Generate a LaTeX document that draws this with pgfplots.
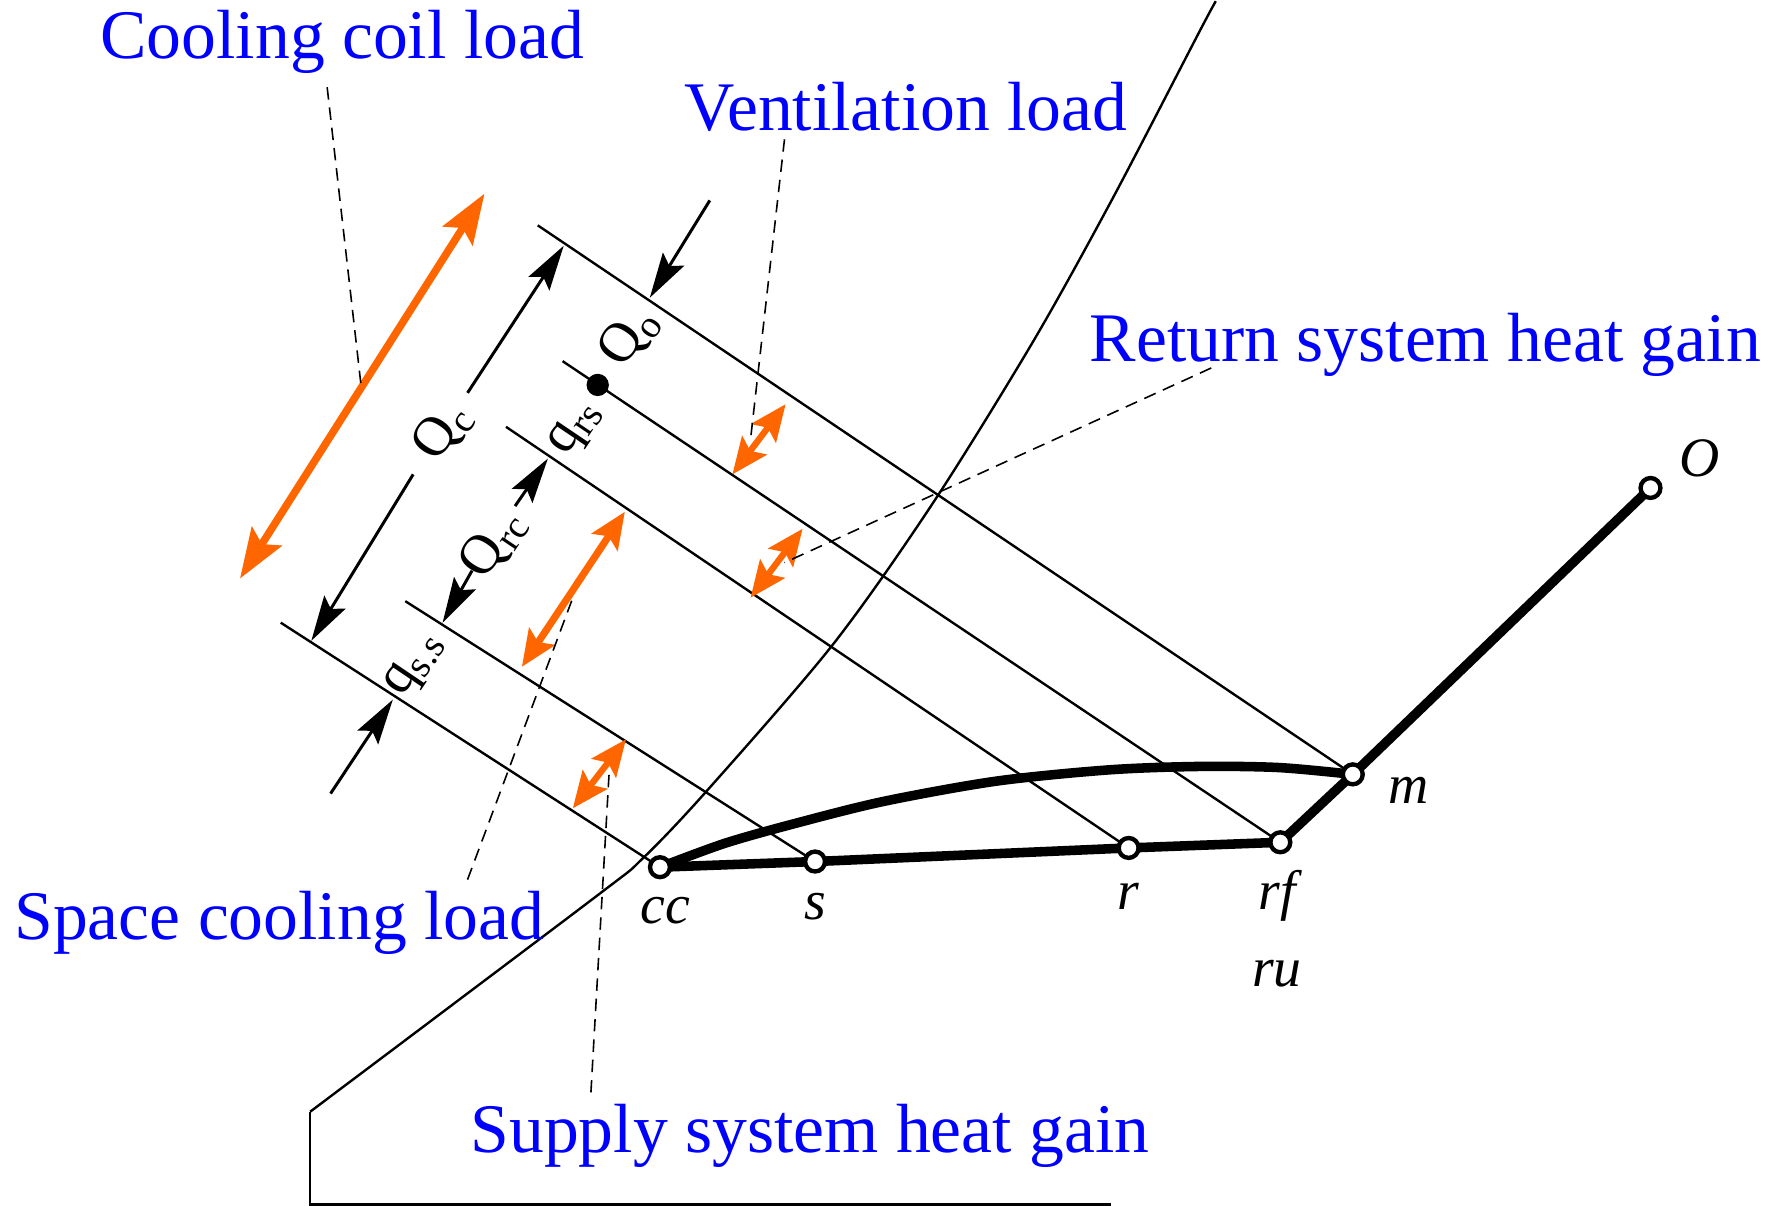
\documentclass[border=0pt]{standalone}
\usepackage{fontspec}
\setmainfont{Liberation Serif}
\usepackage{pgfplots}
\pgfplotsset{compat=1.18}
\usetikzlibrary{arrows.meta}
\definecolor{labelblue}{RGB}{0,0,255}
\definecolor{loadorange}{RGB}{255,102,0}

\tikzset{
  enth/.style={black, line width=0.6pt},
  proc/.style={black, line width=2.4pt},
  dimarr/.style={black, line width=0.75pt, -{Stealth[length=4mm,width=2.2mm,inset=0.7mm]}},
  oarr/.style={loadorange, line width=1.6pt,
    {Stealth[length=3.2mm,width=2.7mm,inset=0.6mm]}-{Stealth[length=3.2mm,width=2.7mm,inset=0.6mm]}},
  oarrbig/.style={loadorange, line width=1.9pt,
    {Stealth[length=4.4mm,width=3.1mm,inset=0.8mm]}-{Stealth[length=4.4mm,width=3.1mm,inset=0.8mm]}},
  leader/.style={black, line width=0.4pt, dash pattern=on 1.1mm off 0.7mm},
  bluelab/.style={labelblue, inner sep=0pt, font=\fontsize{17.5}{20}\selectfont},
  ptlab/.style={inner sep=0pt, anchor=base, font=\fontsize{14}{16}\selectfont\itshape},
  dimlab/.style={inner sep=0pt, rotate=56, font=\fontsize{14}{16}\selectfont},
}

\begin{document}
\begin{tikzpicture}
\begin{axis}[
  width=15.68cm, height=10.64cm, scale only axis,
  xmin=0, xmax=1568, ymin=0, ymax=1064, y dir=reverse,
  hide axis, clip=false,
]
% keep the whole frame in the bounding box
\addplot[draw=none] coordinates {(0,0) (1568,1064)};

% saturation curve and chart frame
\addplot[enth, smooth] coordinates {
  (1074,0) (1060,26) (983,174) (913,300) (825,442) (736,568)
  (624,698) (567,758) (525,792) (274,981)
};
\addplot[enth] coordinates {(274,981) (274,1063) (981,1063)};

% enthalpy lines
\addplot[enth] coordinates {(475,198) (1195,683)};
\addplot[enth] coordinates {(497,318) (1131,743)};
\addplot[enth] coordinates {(447,376) (997,748)};
\addplot[enth] coordinates {(358,530) (720,760)};
\addplot[enth] coordinates {(248,549) (583,765)};

% dimension arrows
\addplot[dimarr] coordinates {(627,176) (574,262)};
\addplot[dimarr] coordinates {(413,346) (498,216)};
\addplot[dimarr] coordinates {(365,418) (275,565)};
\addplot[dimarr] coordinates {(455,446) (484,404)};
\addplot[dimarr] coordinates {(417,503) (391,549)};
\addplot[dimarr] coordinates {(292,700) (347,617)};
\addplot[only marks, mark=*, mark size=2.6pt, black] coordinates {(528,339)};

% processes
\addplot[proc, smooth] coordinates {
  (583,765) (640,744) (700,727) (780,707) (880,689) (980,679)
  (1060,676) (1130,677) (1195,683)
};
\addplot[proc] coordinates {
  (583,765) (720,760) (997,748) (1131,743) (1195,683) (1458,430)
};
\addplot[only marks, mark=*, mark size=2.5pt,
  mark options={fill=white, draw=black, line width=1.1pt}] coordinates {
  (583,765) (720,760) (997,748) (1131,743) (1195,683) (1458,430)
};

% orange load arrows
\addplot[oarrbig] coordinates {(212,510) (428,170)};
\addplot[oarr] coordinates {(647,418) (694,356)};
\addplot[oarr] coordinates {(663,527) (709,466)};
\addplot[oarr, line width=1.8pt] coordinates {(461,588) (552,451)};
\addplot[oarr] coordinates {(506,713) (553,652)};

% leaders
\addplot[leader] coordinates {(289,76) (319,340)};
\addplot[leader] coordinates {(693,122) (663,387)};
\addplot[leader] coordinates {(1070,324) (693,496)};
\addplot[leader] coordinates {(413,776) (506,527)};
\addplot[leader] coordinates {(522,964) (538,683)};

% blue captions
\node[bluelab, anchor=base west] at (axis cs:88,51) {Cooling coil load};
\node[bluelab, anchor=base west] at (axis cs:604,114) {Ventilation load};
\node[bluelab, anchor=base west] at (axis cs:962,318) {Return system heat gain};
\node[bluelab, anchor=base west] at (axis cs:12,829) {Space cooling load};
\node[bluelab, anchor=base west] at (axis cs:415,1017) {Supply system heat gain};

% point labels
\node[ptlab] at (axis cs:588,815) {cc};
\node[ptlab] at (axis cs:720,811) {s};
\node[ptlab] at (axis cs:997,802) {r};
\node[ptlab] at (axis cs:1128,802) {rf};
\node[ptlab] at (axis cs:1128,870) {ru};
\node[ptlab] at (axis cs:1244,709) {m};
\node[ptlab] at (axis cs:1501,420) {O};

% dimension labels
\node[dimlab] at (axis cs:391,380) {Q\textsubscript{c}};
\node[dimlab] at (axis cs:556,296) {Q\textsubscript{o}};
\node[dimlab] at (axis cs:509,377) {q\textsubscript{rs}};
\node[dimlab] at (axis cs:436,479) {Q\textsubscript{rc}};
\node[dimlab] at (axis cs:367,586) {q\textsubscript{s.s}};
\end{axis}
\end{tikzpicture}
\end{document}
